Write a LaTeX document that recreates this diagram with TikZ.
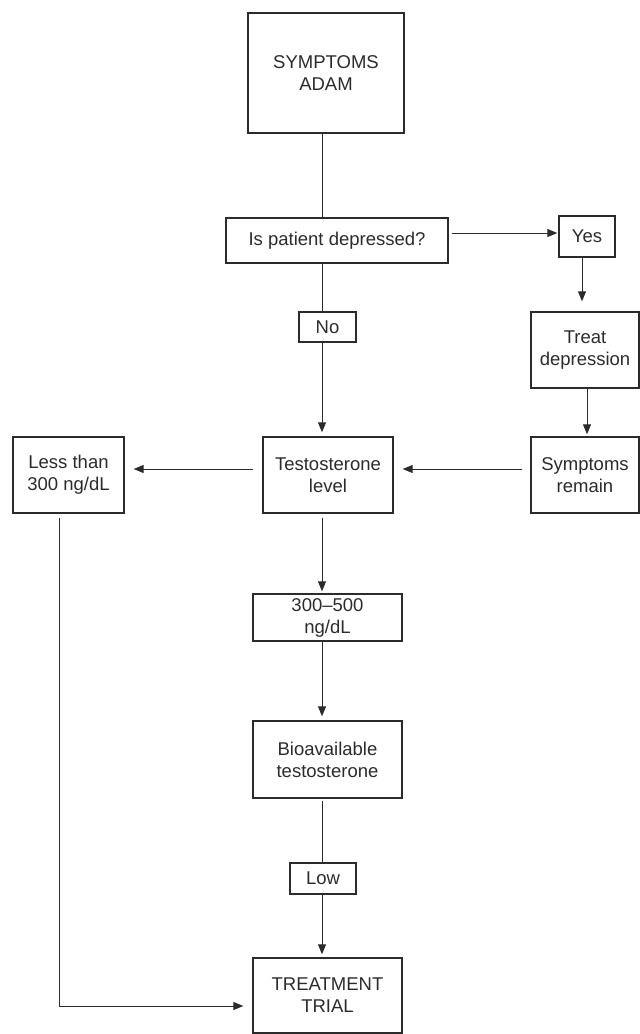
\documentclass[tikz,border=0pt]{standalone}
\usepackage{fontspec}
\setmainfont{Liberation Sans}
\usetikzlibrary{arrows.meta}
\definecolor{ink}{HTML}{2B2B2B}

\begin{document}
\begin{tikzpicture}[x=1pt, y=-1pt,
		box/.style={draw=ink, line width=1.4pt, text=ink, align=center, inner sep=0pt, font=\fontsize{18.5}{22}\selectfont},
		link/.style={draw=ink, line width=1pt},
		arr/.style={link, -{Triangle[length=10pt, width=8pt]}}]
			\useasboundingbox (0,0) rectangle (640,1034);
			
			%boxes
			\node[box, minimum width=156pt, minimum height=120pt] (adam) at (326,73) {SYMPTOMS\\ADAM};
			\node[box, minimum width=222pt, minimum height=45pt] (depr) at (337,240.5) {Is patient depressed?};
			\node[box, minimum width=56pt, minimum height=41pt] (yes) at (587,236.5) {Yes};
			\node[box, minimum width=57pt, minimum height=30pt] (no) at (327.5,327) {No};
			\node[box, minimum width=108pt, minimum height=76pt] (treat) at (585,350) {Treat\\depression};
			\node[box, minimum width=108pt, minimum height=76pt] (remain) at (585,475) {Symptoms\\remain};
			\node[box, minimum width=130pt, minimum height=76pt] (testo) at (328,475) {Testosterone\\level};
			\node[box, minimum width=111pt, minimum height=76pt] (less) at (68.5,475) {Less than\\300 ng/dL};
			\node[box, minimum width=149pt, minimum height=47pt] (range) at (327.5,617.5) {300--500\\ng/dL};
			\node[box, minimum width=149pt, minimum height=77pt] (bio) at (327.5,759.5) {Bioavailable\\testosterone};
			\node[box, minimum width=66pt, minimum height=31pt] (low) at (323,878.5) {Low};
			\node[box, minimum width=149pt, minimum height=75pt] (trial) at (327.5,995.5) {TREATMENT\\TRIAL};
			
			%rows and columns of the connectors
			\coordinate (spine) at (322,0);
			\coordinate (ycol) at (582,0);
			\coordinate (rcol) at (587,0);
			\coordinate (lcol) at (59,0);
			\coordinate (yrow) at (0,233);
			\coordinate (trow) at (0,469);
			\coordinate (brow) at (0,1006);
			
			%connectors
			\draw[link] (adam.south -| spine) -- (depr.north -| spine);
			\draw[arr, shorten <=3pt, shorten >=1pt] (depr.east |- yrow) -- (yes.west |- yrow);
			\draw[link] (depr.south -| spine) -- (no.north -| spine);
			\draw[arr, shorten >=4pt] (no.south -| spine) -- (testo.north -| spine);
			\draw[arr, shorten >=10pt] (yes.south -| ycol) -- (treat.north -| ycol);
			\draw[arr, shorten >=2pt] (treat.south -| rcol) -- (remain.north -| rcol);
			\draw[arr, shorten <=8pt, shorten >=9pt] (remain.west |- trow) -- (testo.east |- trow);
			\draw[arr, shorten <=9pt, shorten >=9pt] (testo.west |- trow) -- (less.east |- trow);
			\draw[arr, shorten <=4pt, shorten >=2pt] (testo.south -| spine) -- (range.north -| spine);
			\draw[arr, shorten >=4pt] (range.south -| spine) -- (bio.north -| spine);
			\draw[link, shorten <=2pt] (bio.south -| spine) -- (low.north -| spine);
			\draw[arr, shorten >=3pt] (low.south -| spine) -- (trial.north -| spine);
			\draw[arr, shorten <=4pt, shorten >=9pt] (less.south -| lcol) |- (trial.west |- brow);
		\end{tikzpicture}
\end{document}
